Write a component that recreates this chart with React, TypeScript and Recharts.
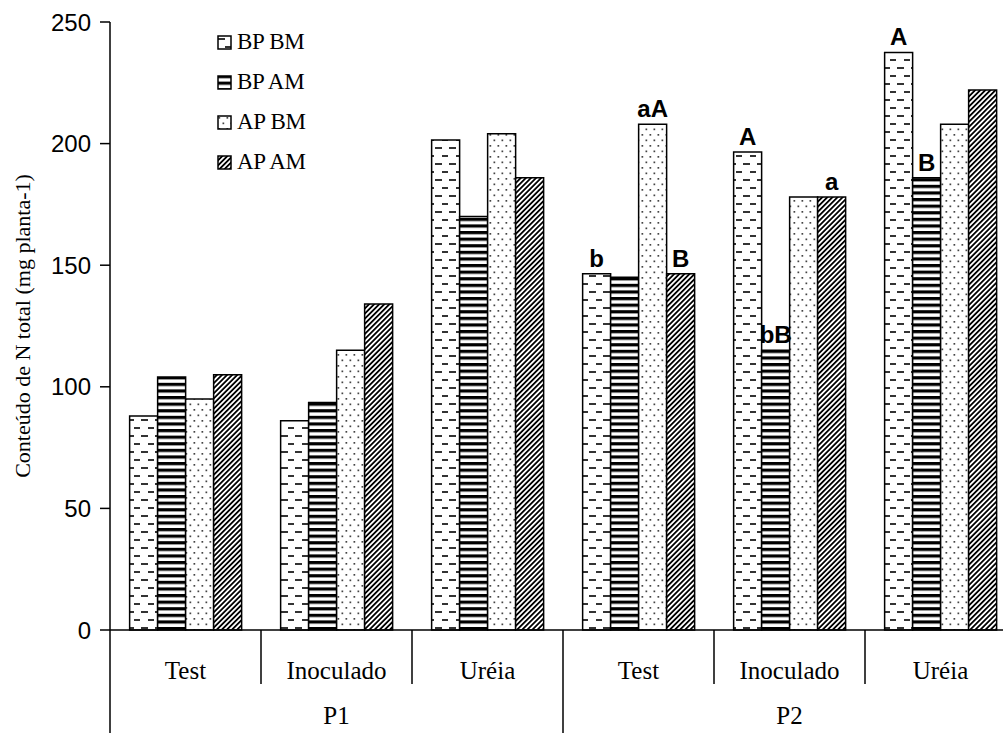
import React from 'react';
import { BarChart, Bar, XAxis, YAxis, LabelList } from 'recharts';

// values (mg planta-1)
const categories = ['Test', 'Inoculado', 'Uréia', 'Test', 'Inoculado', 'Uréia'];
const groups = ['P1', 'P1', 'P1', 'P2', 'P2', 'P2'];
const bpBm = [88, 86, 201.5, 146.5, 196.5, 237.5];
const bpAm = [104, 93.5, 170, 145, 115, 186];
const apBm = [95, 115, 204, 208, 178, 208];
const apAm = [105, 134, 186, 146.5, 178, 222];

// letters over the bars
const bpBmMarks = ['', '', '', 'b', 'A', 'A'];
const bpAmMarks = ['', '', '', '', 'bB', 'B'];
const apBmMarks = ['', '', '', 'aA', '', ''];
const apAmMarks = ['', '', '', 'B', 'a', ''];

const yTicks = [0, 50, 100, 150, 200, 250];

const series = [
    { key: 'bpBm', mark: 'bpBmMark', name: 'BP BM', fill: 'url(#pBPBM)' },
    { key: 'bpAm', mark: 'bpAmMark', name: 'BP AM', fill: 'url(#pBPAM)' },
    { key: 'apBm', mark: 'apBmMark', name: 'AP BM', fill: 'url(#pAPBM)' },
    { key: 'apAm', mark: 'apAmMark', name: 'AP AM', fill: 'url(#pAPAM)' },
];

const data = categories.map((cat, i) => ({
    cat,
    group: groups[i],
    bpBm: bpBm[i],
    bpAm: bpAm[i],
    apBm: apBm[i],
    apAm: apAm[i],
    bpBmMark: bpBmMarks[i],
    bpAmMark: bpAmMarks[i],
    apBmMark: apBmMarks[i],
    apAmMark: apAmMarks[i],
}));

const serif = '"Liberation Serif", "Times New Roman", serif';
const sans = '"Liberation Sans", Arial, sans-serif';

const Patterns = () => (
    <svg width={0} height={0} style={{ position: 'absolute' }}>
        <defs>
            <pattern id="pBPBM" patternUnits="userSpaceOnUse" width={14} height={16}>
                <rect width={14} height={16} fill="#fff" />
                <rect x={1} y={3} width={7} height={2} fill="#333" />
                <rect x={8} y={11} width={7} height={2} fill="#333" />
            </pattern>
            <pattern id="pBPAM" patternUnits="userSpaceOnUse" width={10} height={6.6}>
                <rect width={10} height={6.6} fill="#fff" />
                <rect y={0} width={10} height={3.2} fill="#000" />
            </pattern>
            <pattern id="pAPBM" patternUnits="userSpaceOnUse" width={8} height={11}>
                <rect width={8} height={11} fill="#fff" />
                <rect x={1.5} y={2} width={1.7} height={1.7} fill="#444" />
                <rect x={5.5} y={7.5} width={1.7} height={1.7} fill="#444" />
            </pattern>
            <pattern id="pAPAM" patternUnits="userSpaceOnUse" width={3.6} height={10} patternTransform="rotate(45)">
                <rect width={3.6} height={10} fill="#fff" />
                <rect width={1.8} height={10} fill="#000" />
            </pattern>
        </defs>
    </svg>
);

const CategoryTick = (props: any) => {
    const { x, y, payload } = props;
    const i = payload.index;
    const half = payload.offset || 75.5;
    return (
        <g>
            <text x={x} y={y + 49} textAnchor="middle" fontFamily={serif} fontSize={25} fill="#000">
                {payload.value}
            </text>
            {i === 0 && <line x1={x - half} y1={y} x2={x - half} y2={y + 110} stroke="#000" strokeWidth={1.5} />}
            {i < categories.length - 1 && (
                <line x1={x + half} y1={y} x2={x + half} y2={i === 2 ? y + 110 : y + 54} stroke="#000" strokeWidth={1.5} />
            )}
            {(i === 1 || i === 4) && (
                <text x={x} y={y + 94} textAnchor="middle" fontFamily={serif} fontSize={25} fill="#000">
                    {groups[i]}
                </text>
            )}
        </g>
    );
};

const YLabel = (props: any) => {
    const vb = props.viewBox || { x: 0, y: 22, height: 608 };
    const cx = vb.x + 22;
    const cy = vb.y + vb.height / 2;
    return (
        <text x={cx} y={cy} transform={`rotate(-90 ${cx} ${cy})`} textAnchor="middle" dominantBaseline="central"
            fontFamily={serif} fontSize={22} fill="#000">
            Conteúdo de N total (mg planta-1)
        </text>
    );
};

const renderMark = (props: any) => {
    const { x, y, width, value } = props;
    if (!value) return null;
    return (
        <text x={x + width / 2} y={y - 7} textAnchor="middle" fontFamily={sans} fontWeight="bold" fontSize={24} fill="#000">
            {value}
        </text>
    );
};

const ChartLegend = () => (
    <div style={{ position: 'absolute', left: 217, top: 22, fontFamily: serif, fontSize: 23, color: '#000' }}>
        {series.map((s) => (
            <div key={s.key} style={{ display: 'flex', alignItems: 'center', height: 40 }}>
                <svg width={15} height={15} style={{ marginRight: 5 }}>
                    <rect x={1} y={1} width={13} height={13} fill={s.fill} stroke="#000" strokeWidth={1.5} />
                </svg>
                <span style={{ letterSpacing: -0.3 }}>{s.name}</span>
            </div>
        ))}
    </div>
);

export default function App() {
    return (
        <div style={{ position: 'absolute', left: 0, top: 0, width: 1003, height: 733, overflow: 'hidden', background: '#fff' }}>
            <Patterns />
            <BarChart
                width={1020}
                height={733}
                data={data}
                margin={{ top: 22, right: 4, left: 0, bottom: 0 }}
                barGap={0}
                barCategoryGap="13%"
            >
                <XAxis
                    dataKey="cat"
                    height={103}
                    interval={0}
                    tickLine={false}
                    tickSize={0}
                    tickMargin={0}
                    axisLine={{ stroke: '#000', strokeWidth: 1.5 }}
                    tick={<CategoryTick />}
                />
                <YAxis
                    width={110}
                    domain={[0, 250]}
                    ticks={yTicks}
                    interval={0}
                    tickSize={10}
                    tickMargin={9}
                    axisLine={{ stroke: '#000', strokeWidth: 1.5 }}
                    tickLine={{ stroke: '#000', strokeWidth: 1.5 }}
                    tick={{ fill: '#000', fontFamily: sans, fontSize: 24 }}
                    label={<YLabel />}
                />
                {series.map((s) => (
                    <Bar key={s.key} dataKey={s.key} name={s.name} fill={s.fill} stroke="#000" strokeWidth={1.5}
                        isAnimationActive={false}>
                        <LabelList dataKey={s.mark} content={renderMark} />
                    </Bar>
                ))}
            </BarChart>
            <ChartLegend />
        </div>
    );
}
